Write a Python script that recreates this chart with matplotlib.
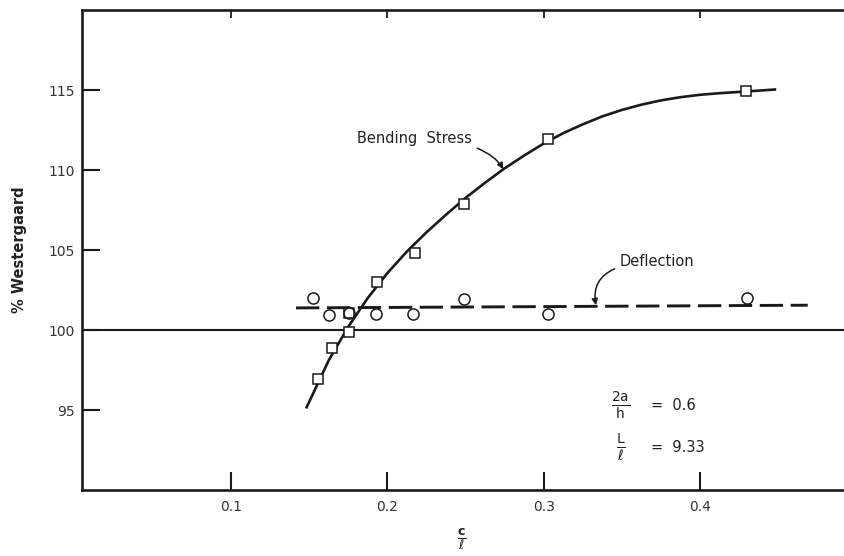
import matplotlib
matplotlib.use('Agg')
import matplotlib.pyplot as plt
import numpy as np

stress_x = [0.1557, 0.1644, 0.1757, 0.1757, 0.1936, 0.2175, 0.2490, 0.3026, 0.4295]
stress_y = [96.95, 98.9, 99.87, 101.09, 102.99, 104.81, 107.85, 111.96, 114.92]

defl_x = [0.1523, 0.1627, 0.1757, 0.1930, 0.2164, 0.2489, 0.3030, 0.4300]
defl_y = [102.03, 100.92, 101.09, 100.98, 100.97, 101.94, 100.97, 101.97]

# hand drawn curve through the squares
curve_x = [0.1484, 0.1625, 0.1750, 0.1875, 0.2000, 0.2125, 0.2250, 0.2375, 0.2500,
           0.2625, 0.2750, 0.2875, 0.3000, 0.3125, 0.3250, 0.3375, 0.3500, 0.3625,
           0.3750, 0.3875, 0.4000, 0.4125, 0.4250, 0.4375, 0.4480]
curve_y = [95.17, 98.10, 100.20, 102.00, 103.55, 104.90, 106.10, 107.20, 108.25,
           109.20, 110.10, 110.90, 111.65, 112.30, 112.85, 113.35, 113.75, 114.08,
           114.35, 114.55, 114.70, 114.80, 114.88, 114.96, 115.03]

# dashed deflection line ends
dline_x = [0.1416, 0.4690]
dline_y = [101.38, 101.55]

xticks = [0.1, 0.2, 0.3, 0.4]
yticks = [95, 100, 105, 110, 115]

ink = '#1a1a1a'
plt.rcParams['font.family'] = 'DejaVu Sans'
plt.rcParams['mathtext.fontset'] = 'dejavusans'

fig = plt.figure(figsize=(8.44, 5.56), dpi=100)
ax = fig.add_axes([82/844, 1-490/556, 1-82/844, 480/556])
ax.set_xlim(0.00467, 0.4922)
ax.set_ylim(90, 120)

for s in ['left', 'bottom', 'top']:
    ax.spines[s].set_linewidth(1.9)
    ax.spines[s].set_color(ink)
ax.spines['right'].set_visible(False)

ax.set_xticks(xticks)
ax.set_xticklabels(['0.1', '0.2', '0.3', '0.4'])
ax.set_yticks(yticks)
ax.set_yticklabels([str(v) for v in yticks])
ax.tick_params(axis='both', direction='in', length=13, width=1.5, colors=ink,
               labelsize=10, labelcolor='#333333')
ax.tick_params(axis='x', pad=7)
ax.tick_params(axis='y', pad=5)

# top ticks, shorter
top = ax.secondary_xaxis('top')
top.set_xticks(xticks)
top.set_xticklabels([])
top.tick_params(direction='in', length=6, width=1.3, colors=ink)
top.spines['top'].set_visible(False)

# 100 % reference line
ax.axhline(100, color=ink, lw=1.5, zorder=2)

ax.plot(curve_x, curve_y, color=ink, lw=1.9, zorder=3, solid_joinstyle='round')
ax.plot(dline_x, dline_y, color=ink, lw=2.1, dashes=(8, 2.6), zorder=3)

ax.plot(stress_x, stress_y, linestyle='none', marker='s', markersize=6.5,
        markerfacecolor='white', markeredgecolor=ink, markeredgewidth=1.1, zorder=4)
ax.plot(defl_x, defl_y, linestyle='none', marker='o', markersize=8,
        markerfacecolor='none', markeredgecolor=ink, markeredgewidth=1.1, zorder=4)

ax.annotate('Bending  Stress', xy=(0.2742, 110.05), xytext=(0.2540, 111.95),
            fontsize=10.5, color='#222222', ha='right', va='center',
            arrowprops=dict(arrowstyle='-|>', color=ink, lw=1.1,
                            mutation_scale=9, shrinkA=2, shrinkB=0,
                            connectionstyle='angle3,angleA=0,angleB=-60'))
ax.annotate('Deflection', xy=(0.3335, 101.55), xytext=(0.3489, 104.25),
            fontsize=10.5, color='#222222', ha='left', va='center',
            arrowprops=dict(arrowstyle='-|>', color=ink, lw=1.1,
                            mutation_scale=9, shrinkA=2, shrinkB=0,
                            connectionstyle='angle3,angleA=180,angleB=100'))

ax.text(0.3495, 95.28, r'$\frac{\mathsf{2a}}{\mathsf{h}}$', fontsize=14,
        ha='center', va='center', color='#222222')
ax.text(0.3687, 95.28, '=  0.6', fontsize=10.5, ha='left', va='center', color='#222222')
ax.text(0.3495, 92.65, r'$\frac{\mathsf{L}}{\ell}$', fontsize=14,
        ha='center', va='center', color='#222222')
ax.text(0.3687, 92.65, '=  9.33', fontsize=10.5, ha='left', va='center', color='#222222')

fig.text(462/844, 1-539/556, r'$\frac{\mathbf{c}}{\ell}$', fontsize=13,
         ha='center', va='center', color='#222222')
fig.text(20/844, 1-250/556, '% Westergaard', rotation=90, fontsize=10.5,
         fontweight='bold', ha='center', va='center', color='#222222')

plt.savefig('out.png', dpi=100, facecolor='white')
